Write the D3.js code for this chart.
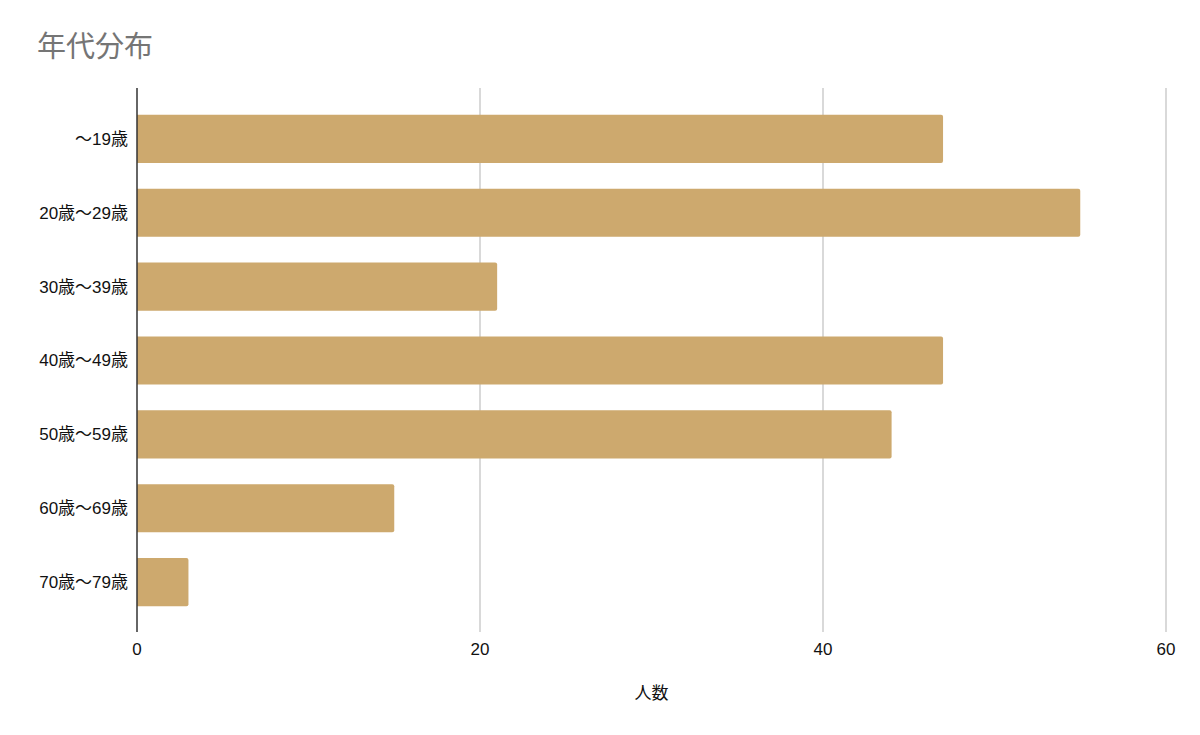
<!DOCTYPE html>
<html><head><meta charset="utf-8">
<script src="https://cdn.jsdelivr.net/npm/d3@7"></script>
<style>body{margin:0;background:#fff;}svg{display:block;}</style>
</head><body>
<svg id="chart" width="1200" height="735"></svg>
<script>
const categories = ["〜19歳","20歳〜29歳","30歳〜39歳","40歳〜49歳","50歳〜59歳","60歳〜69歳","70歳〜79歳"];
const values = [47, 55, 21, 47, 44, 15, 3];
const xTicks = [0, 20, 40, 60];
const title = "年代分布";
const xTitle = "人数";

(function () {
const font = "'Helvetica Neue', Arial, 'Noto Sans CJK JP', sans-serif";
const svg = d3.select("#chart");
const pLeft = 137, pRight = 1166, pTop = 89, pBottom = 632;
const x = d3.scaleLinear().domain([0, 60]).range([pLeft, pRight]);
const y = d3.scaleBand().domain(categories).range([pTop, pBottom]).paddingInner(0.35).paddingOuter(0.35);

svg.append("text").attr("x", 37).attr("y", 57).attr("font-family", font)
  .attr("font-size", 29).attr("fill", "#757575").text(title);

svg.append("g").selectAll("line").data(xTicks.filter(d => d !== 0)).join("line")
  .attr("x1", d => x(d)).attr("x2", d => x(d)).attr("y1", pTop - 1).attr("y2", pBottom)
  .attr("stroke", "#cccccc").attr("stroke-width", 1.5);

svg.append("g").selectAll("path").data(categories).join("path")
  .attr("fill", "#cda96e")
  .attr("d", (c, i) => {
    const x0 = x(0), x1 = x(values[i]), y0 = y(c), h = y.bandwidth(), r = 2;
    return `M${x0},${y0}H${x1 - r}Q${x1},${y0} ${x1},${y0 + r}V${y0 + h - r}Q${x1},${y0 + h} ${x1 - r},${y0 + h}H${x0}Z`;
  });

svg.append("line").attr("x1", x(0)).attr("x2", x(0)).attr("y1", pTop - 1).attr("y2", pBottom)
  .attr("stroke", "#333").attr("stroke-width", 1.5);

svg.append("g").selectAll("text").data(categories).join("text")
  .attr("x", pLeft - 9).attr("y", c => y(c) + y.bandwidth() / 2)
  .attr("dy", "0.35em").attr("text-anchor", "end")
  .attr("font-family", font).attr("font-size", 17).attr("fill", "#111").text(c => c);

svg.append("g").selectAll("text").data(xTicks).join("text")
  .attr("x", d => x(d)).attr("y", 655).attr("text-anchor", "middle")
  .attr("font-family", font).attr("font-size", 17).attr("fill", "#111").text(d => d);

svg.append("text").attr("x", (pLeft + pRight) / 2).attr("y", 699).attr("text-anchor", "middle")
  .attr("font-family", font).attr("font-size", 17).attr("fill", "#111").text(xTitle);
})();
</script>
</body></html>
